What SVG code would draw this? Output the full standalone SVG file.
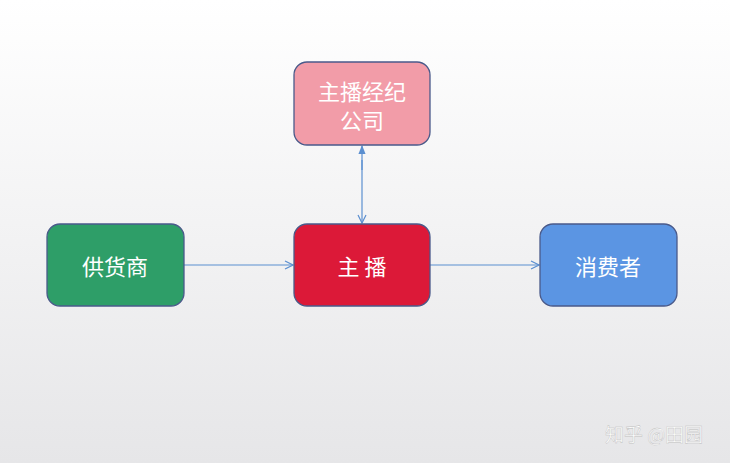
<svg xmlns="http://www.w3.org/2000/svg" width="730" height="463" viewBox="0 0 730 463">
<defs>
<linearGradient id="bg" x1="0" y1="0" x2="0" y2="1"><stop offset="0" stop-color="#ffffff"/><stop offset="1" stop-color="#e6e6e8"/></linearGradient>
<marker id="open" viewBox="0 0 10 10" refX="9" refY="5" markerWidth="10" markerHeight="10" orient="auto" markerUnits="userSpaceOnUse"><path d="M1,1 L9,5 L1,9" fill="none" stroke="#5b8fd0" stroke-width="1.2"/></marker>
<marker id="fill" viewBox="0 0 10 10" refX="9" refY="5" markerWidth="9" markerHeight="9" orient="auto" markerUnits="userSpaceOnUse"><path d="M0,1 L10,5 L0,9 Z" fill="#5b8fd0"/></marker>
</defs>
<style>
.n{stroke:#4a5a8a;stroke-width:1.3}
.t{font-family:"Noto Sans CJK SC",sans-serif;font-size:22px;fill:#fff;text-anchor:middle;dominant-baseline:central}
.c{stroke:#5b8fd0;stroke-width:1.2;fill:none}
</style>
<rect width="730" height="463" fill="url(#bg)"/>
<g id="connectors">
<line class="c" x1="184" y1="265" x2="293" y2="265" marker-end="url(#open)"/>
<line class="c" x1="430" y1="265" x2="539" y2="265" marker-end="url(#open)"/>
<line class="c" x1="362" y1="160" x2="362" y2="223" marker-end="url(#open)"/>
<line class="c" x1="362" y1="170" x2="362" y2="146" marker-end="url(#fill)"/>
</g>
<g id="agency"><rect class="n" x="294" y="62" width="136" height="83" rx="13" fill="#f29ca8"/><text class="t" x="362" y="90">主播经纪</text><text class="t" x="362" y="119">公司</text></g>
<g id="supplier"><rect class="n" x="47" y="224" width="137" height="82" rx="13" fill="#2e9e68"/><text class="t" x="115" y="265">供货商</text></g>
<g id="host"><rect class="n" x="294" y="224" width="136" height="82" rx="13" fill="#dc1938"/><text class="t" x="362" y="265">主 播</text></g>
<g id="consumer"><rect class="n" x="540" y="224" width="137" height="82" rx="13" fill="#5b95e3"/><text class="t" x="608" y="265">消费者</text></g>
<text x="654" y="433" font-family="Noto Sans CJK SC,sans-serif" font-size="19" fill="#fff" stroke="#bbb" stroke-width="0.4" text-anchor="middle" dominant-baseline="central">知乎 @田园</text>
</svg>
